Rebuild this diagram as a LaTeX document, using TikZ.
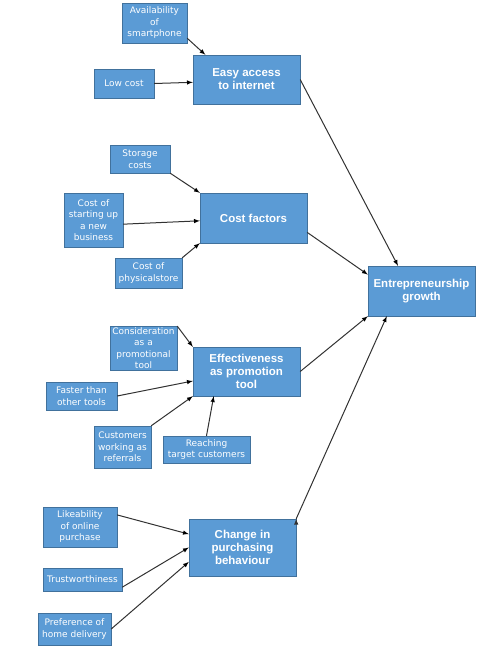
\documentclass[tikz,border=0pt]{standalone}
\usepackage{fontspec}
\newfontfamily\smallfont{DejaVu Sans}
\newfontfamily\boldfont{Liberation Sans}
\definecolor{boxblue}{RGB}{91,155,213}
\definecolor{boxedge}{RGB}{65,113,156}
\definecolor{arrowgray}{RGB}{50,50,50}

\begin{document}
\begin{tikzpicture}[x=1pt,y=-1pt,>=latex,
                small node/.style={rectangle,draw=boxedge,fill=boxblue,text=white,align=center,inner sep=1pt,
                  font=\smallfont\fontsize{9}{11.5}\selectfont},
                main node/.style={rectangle,draw=boxedge,fill=boxblue,text=white,align=center,inner sep=1pt,
                  minimum width=107pt,font=\boldfont\bfseries\fontsize{11.5}{13}\selectfont}]
	\useasboundingbox (0,0) rectangle (480,646);

	\node[small node,minimum width=65pt,minimum height=40pt] (1) at (154.5,23) {Availability\\of\\smartphone};
	\node[small node,minimum width=60pt,minimum height=29pt] (2) at (124,83.5) {Low cost};
	\node[main node,minimum height=49pt] (3) at (246.5,79.5) {Easy access\\to internet};

	\node[small node,minimum width=60pt,minimum height=28pt] (4) at (140,159) {Storage\\costs};
	\node[small node,minimum width=59pt,minimum height=54pt] (5) at (93.5,220) {Cost of\\starting up\\a new\\business};
	\node[small node,minimum width=67pt,minimum height=30pt] (6) at (148.5,273) {Cost of\\physicalstore};
	\node[main node,minimum height=50pt] (7) at (253.5,218) {Cost factors};

	\node[small node,minimum width=67pt,minimum height=42pt] (8) at (143.5,348) {Consideration\\as a\\promotional\\tool};
	\node[small node,minimum width=71pt,minimum height=28pt] (9) at (81.5,396) {Faster than\\other tools};
	\node[small node,minimum width=57pt,minimum height=42pt] (10) at (122.5,447) {Customers\\working as\\referrals};
	\node[small node,minimum width=87pt,minimum height=27pt] (11) at (206.5,449.5) {Reaching\\target customers};
	\node[main node,minimum height=49pt] (12) at (246.5,371.5) {Effectiveness\\as promotion\\tool};

	\node[small node,minimum width=74pt,minimum height=40pt] (13) at (80,527) {Likeability\\of online\\purchase};
	\node[small node,minimum width=79pt,minimum height=23pt] (14) at (82.5,579.5) {Trustworthiness};
	\node[small node,minimum width=73pt,minimum height=32pt] (15) at (74.5,629) {Preference of\\home delivery};
	\node[main node,minimum height=57pt] (16) at (242.5,547.5) {Change in\\purchasing\\behaviour};

	\node[main node,minimum height=50pt] (17) at (421.5,291) {Entrepreneurship\\growth};

	\path[->,draw=arrowgray,line width=1pt]
	(1.-25) edge (3.149)
	(2.east) edge (3.183)
	(4.south east) edge (7.north west)
	(5.-8) edge (7.183)
	(6.north east) edge (7.south west)
	(8.north east) edge (12.north west)
	(9.east) edge (12.190)
	(10.north east) edge (12.south west)
	(11.north) edge (12.217)
	(13.18) edge (16.166)
	(14.-11) edge (16.west)
	(15.east) edge (16.195)
	(3.east) edge (17.133)
	(7.-15) edge (17.163)
	(12.east) edge (17.south west)
	(16.north east) edge (17.216)
	;
\end{tikzpicture}
\end{document}
